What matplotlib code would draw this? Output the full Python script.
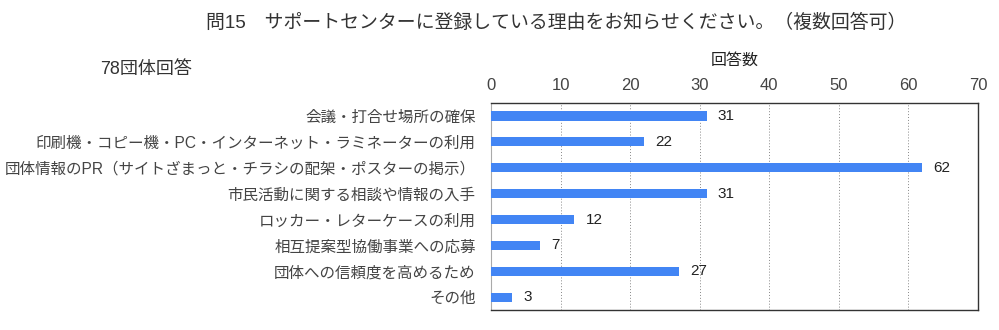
import matplotlib.pyplot as plt

plt.rcParams['font.family'] = ['Liberation Sans', 'Noto Sans CJK JP', 'DejaVu Sans']

title = "問15　サポートセンターに登録している理由をお知らせください。（複数回答可）"
categories = [
    "会議・打合せ場所の確保",
    "印刷機・コピー機・PC・インターネット・ラミネーターの利用",
    "団体情報のPR（サイトざまっと・チラシの配架・ポスターの掲示）",
    "市民活動に関する相談や情報の入手",
    "ロッカー・レターケースの利用",
    "相互提案型協働事業への応募",
    "団体への信頼度を高めるため",
    "その他",
]
counts = [31, 22, 62, 31, 12, 7, 27, 3]
xticks = [0, 10, 20, 30, 40, 50, 60, 70]

bar_color = "#4285f4"
text_color = "#444444"

fig = plt.figure(figsize=(9.99, 3.3), dpi=100)
ax = fig.add_axes([0.4915, 0.06, 0.4875, 0.628])

ypos = list(range(len(categories)))
ax.barh(ypos, counts, height=0.36, color=bar_color, zorder=3)
for y, v in zip(ypos, counts):
    ax.text(v + 1.6, y, str(v), va="center", ha="left", fontsize=11, color="#222222")

ax.set_ylim(len(categories) - 0.5, -0.5)
ax.set_xlim(0, 70)
ax.set_yticks(ypos)
ax.set_yticklabels(categories, fontsize=11.2, color=text_color)
ax.set_xticks(xticks)
ax.xaxis.tick_top()
ax.tick_params(axis="x", labelsize=12, colors=text_color, length=0, pad=7)
ax.tick_params(axis="y", length=0, pad=11)
ax.xaxis.set_label_position("top")
ax.set_xlabel("回答数", fontsize=11.5, color="#222222", labelpad=10)
ax.grid(axis="x", linestyle=(0, (1, 2)), color="#888888", linewidth=0.7, zorder=0)

for s in ["top", "right", "bottom"]:
    ax.spines[s].set_color("#333333")
    ax.spines[s].set_linewidth(1.0)
ax.spines["left"].set_color("#aaaaaa")

fig.text(0.557, 0.93, title, ha="center", va="center", fontsize=13.6, color="#333333")
fig.text(0.146, 0.79, "78団体回答", ha="center", va="center", fontsize=13, color="#333333")

fig.savefig("out.png", dpi=100)
